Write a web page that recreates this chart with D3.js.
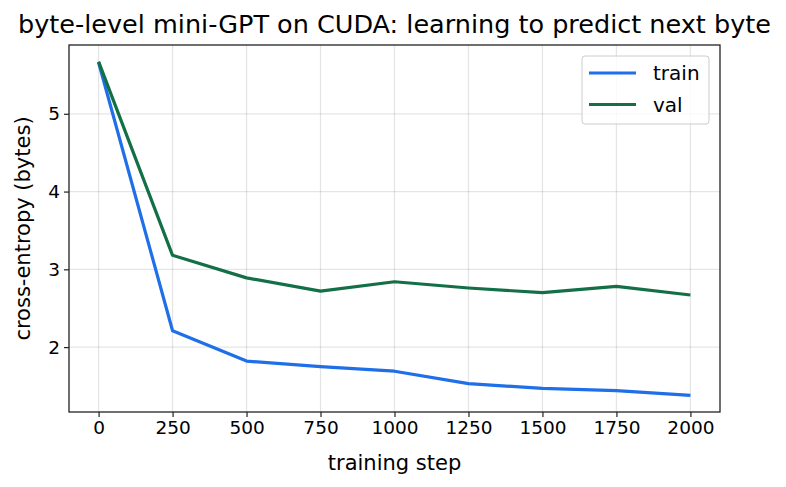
<!DOCTYPE html>
<html>
<head>
<meta charset="utf-8">
<script src="https://cdn.jsdelivr.net/npm/d3@7"></script>
<style>
  body { margin: 0; background: #fff; }
  svg text { font-family: "DejaVu Sans", sans-serif; fill: #000; }
</style>
</head>
<body>
<div id="container"></div>
<script>
/* DATA */
const steps = [0, 250, 500, 750, 1000, 1250, 1500, 1750, 2000]
const trainLoss = [5.66, 2.21, 1.82, 1.75, 1.69, 1.53, 1.47, 1.44, 1.38]
const valLoss = [5.67, 3.18, 2.89, 2.72, 2.84, 2.76, 2.70, 2.78, 2.67]
const xTicks = [0, 250, 500, 750, 1000, 1250, 1500, 1750, 2000]
const yTicks = [2, 3, 4, 5]

const width = 786,
  height = 487,
  margin = { top: 45, bottom: 75, left: 69, right: 66 }

const series = [
  { name: 'train', values: trainLoss, color: '#1f6fe8' },
  { name: 'val', values: valLoss, color: '#137046' }
]

const svg = d3.select('#container')
  .append('svg')
  .attr('width', width)
  .attr('height', height)

// scales (matplotlib-style 5% padding)
const xScale = d3.scaleLinear()
  .domain([-100, 2100])
  .range([margin.left, width - margin.right])

const allY = trainLoss.concat(valLoss)
const yMin = d3.min(allY), yMax = d3.max(allY)
const pad = (yMax - yMin) * 0.05
const yScale = d3.scaleLinear()
  .domain([yMin - pad, yMax + pad])
  .range([height - margin.bottom, margin.top])

// grid
svg.append('g')
  .selectAll('line')
  .data(xTicks)
  .join('line')
  .attr('x1', d => xScale(d)).attr('x2', d => xScale(d))
  .attr('y1', margin.top).attr('y2', height - margin.bottom)
  .attr('stroke', '#000').attr('stroke-opacity', 0.1).attr('stroke-width', 1.3)

svg.append('g')
  .selectAll('line')
  .data(yTicks)
  .join('line')
  .attr('y1', d => yScale(d)).attr('y2', d => yScale(d))
  .attr('x1', margin.left).attr('x2', width - margin.right)
  .attr('stroke', '#000').attr('stroke-opacity', 0.1).attr('stroke-width', 1.3)

// axes
const xAxis = d3.axisBottom(xScale).tickValues(xTicks).tickFormat(d3.format('d')).tickSize(5).tickPadding(4)
const yAxis = d3.axisLeft(yScale).tickValues(yTicks).tickFormat(d3.format('d')).tickSize(5).tickPadding(4)

const xAxisGroup = svg.append('g')
  .attr('transform', `translate(0, ${height - margin.bottom})`)
  .call(xAxis)
const yAxisGroup = svg.append('g')
  .attr('transform', `translate(${margin.left}, 0)`)
  .call(yAxis)

;[xAxisGroup, yAxisGroup].forEach(g => {
  g.select('.domain').remove()
  g.selectAll('.tick line').attr('stroke', '#222').attr('stroke-width', 1.2)
  g.selectAll('.tick text')
    .style('font-family', '"DejaVu Sans", sans-serif')
    .style('font-size', '18.5px')
    .attr('fill', '#000')
})

// lines
const line = d3.line()
  .x((d, i) => xScale(steps[i]))
  .y(d => yScale(d))

svg.append('g')
  .selectAll('path')
  .data(series)
  .join('path')
  .attr('fill', 'none')
  .attr('stroke', d => d.color)
  .attr('stroke-width', 3.2)
  .attr('stroke-linejoin', 'round')
  .attr('d', d => line(d.values))

// frame
svg.append('rect')
  .attr('x', margin.left).attr('y', margin.top)
  .attr('width', width - margin.left - margin.right)
  .attr('height', height - margin.top - margin.bottom)
  .attr('fill', 'none').attr('stroke', '#222').attr('stroke-width', 1.3)

// title & labels
svg.append('text')
  .attr('x', (margin.left + width - margin.right) / 2)
  .attr('y', 33)
  .attr('text-anchor', 'middle')
  .style('font-size', '25.5px')
  .text('byte-level mini-GPT on CUDA: learning to predict next byte')

svg.append('text')
  .attr('x', (margin.left + width - margin.right) / 2)
  .attr('y', 470)
  .attr('text-anchor', 'middle')
  .style('font-size', '21px')
  .text('training step')

svg.append('text')
  .attr('transform', `translate(30, ${(margin.top + height - margin.bottom) / 2}) rotate(-90)`)
  .attr('text-anchor', 'middle')
  .style('font-size', '21px')
  .text('cross-entropy (bytes)')

// legend
const legend = svg.append('g').attr('transform', 'translate(582, 56)')
legend.append('rect')
  .attr('width', 127).attr('height', 68)
  .attr('rx', 3)
  .attr('fill', '#fff').attr('fill-opacity', 0.8)
  .attr('stroke', '#ccc').attr('stroke-width', 1)

const items = legend.selectAll('g.item')
  .data(series)
  .join('g')
  .attr('class', 'item')
  .attr('transform', (d, i) => `translate(0, ${17 + i * 31.5})`)

items.append('line')
  .attr('x1', 7).attr('x2', 54)
  .attr('stroke', d => d.color).attr('stroke-width', 3.2)

items.append('text')
  .attr('x', 71).attr('y', 7)
  .style('font-size', '20px')
  .text(d => d.name)
</script>
</body>
</html>
